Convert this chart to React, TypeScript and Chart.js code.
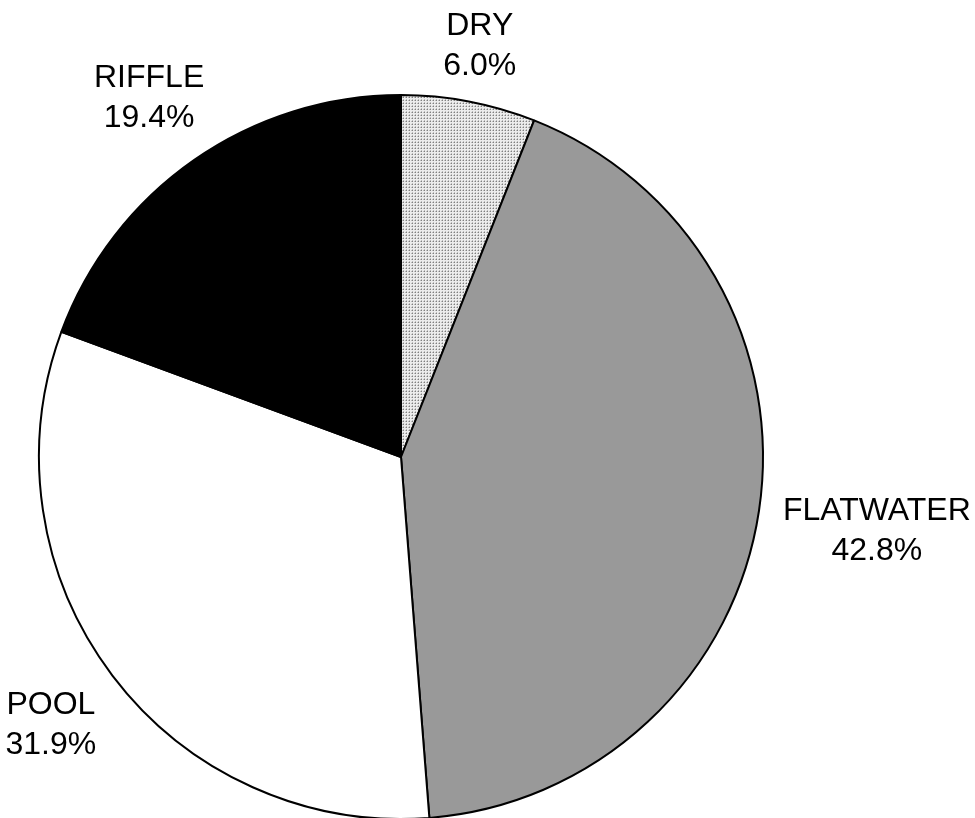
import React, { useEffect, useRef } from "react";
import { Chart, registerables } from "chart.js";

Chart.register(...registerables);

const categories = ["DRY", "FLATWATER", "POOL", "RIFFLE"];
const shares = [6.0, 42.8, 31.9, 19.4];
const shareLabels = ["6.0%", "42.8%", "31.9%", "19.4%"];

const FONT_SIZE = 32;
const LINE_GAP = 40;
const CAP_HEIGHT = 23;
const LABEL_GAP = 22;

function makeDotPattern(): CanvasPattern | string {
  const c = document.createElement("canvas");
  c.width = 3;
  c.height = 3;
  const g = c.getContext("2d");
  if (!g) return "#d0d0d0";
  g.fillStyle = "#ececec";
  g.fillRect(0, 0, 3, 3);
  g.fillStyle = "#808080";
  g.fillRect(1, 1, 1, 1);
  g.fillStyle = "#bcbcbc";
  g.fillRect(0, 1, 1, 1);
  g.fillRect(1, 0, 1, 1);
  const p = g.createPattern(c, "repeat");
  return p || "#d0d0d0";
}

// Places each two-line label outside its slice, along the slice's mid-angle,
// so that the label box's nearest point sits a fixed gap beyond the rim.
const outsideLabels = {
  id: "outsideLabels",
  afterDraw(chart: any) {
    const ctx: CanvasRenderingContext2D = chart.ctx;
    const meta = chart.getDatasetMeta(0);
    ctx.save();
    ctx.font = `${FONT_SIZE}px "Liberation Sans", Arial, sans-serif`;
    ctx.fillStyle = "#000";
    ctx.textAlign = "center";
    ctx.textBaseline = "alphabetic";
    meta.data.forEach((arc: any, i: number) => {
      const { x, y, startAngle, endAngle, outerRadius } = arc.getProps(
        ["x", "y", "startAngle", "endAngle", "outerRadius"],
        true
      );
      const mid = (startAngle + endAngle) / 2;
      const ux = Math.cos(mid);
      const uy = Math.sin(mid);
      const l1 = categories[i];
      const l2 = shareLabels[i];
      const w = Math.max(ctx.measureText(l1).width, ctx.measureText(l2).width);
      const h = CAP_HEIGHT + LINE_GAP;
      const target = outerRadius + LABEL_GAP;
      const nearest = (t: number) => {
        const cx = ux * t;
        const cy = uy * t;
        const dx = Math.max(Math.abs(cx) - w / 2, 0);
        const dy = Math.max(Math.abs(cy) - h / 2, 0);
        return Math.hypot(dx, dy);
      };
      let lo = 0;
      let hi = outerRadius * 3;
      for (let k = 0; k < 60; k++) {
        const m = (lo + hi) / 2;
        if (nearest(m) < target) lo = m;
        else hi = m;
      }
      const cx = x + ux * lo;
      const cy = y + uy * lo;
      const top = cy - h / 2;
      ctx.fillText(l1, cx, top + CAP_HEIGHT);
      ctx.fillText(l2, cx, top + CAP_HEIGHT + LINE_GAP);
    });
    ctx.restore();
  },
};

export default function App() {
  const canvasRef = useRef<HTMLCanvasElement | null>(null);

  useEffect(() => {
    document.body.style.margin = "0";
    const canvas = canvasRef.current;
    if (!canvas) return;
    const chart = new Chart(canvas, {
      type: "pie",
      data: {
        labels: categories,
        datasets: [
          {
            data: shares,
            backgroundColor: [makeDotPattern(), "#999999", "#ffffff", "#000000"],
            borderColor: "#000000",
            borderWidth: 2,
            hoverOffset: 0,
            offset: 0,
          },
        ],
      },
      options: {
        animation: false,
        responsive: false,
        maintainAspectRatio: false,
        layout: { padding: { left: 38, right: 211, top: 94, bottom: 0 } },
        plugins: {
          legend: { display: false },
          tooltip: { enabled: false },
          title: { display: false },
        },
        events: [],
      },
      plugins: [outsideLabels],
    });
    return () => chart.destroy();
  }, []);

  return (
    <div style={{ width: 975, height: 818, overflow: "hidden", background: "#fff" }}>
      <canvas ref={canvasRef} width={975} height={820} style={{ display: "block" }} />
    </div>
  );
}
